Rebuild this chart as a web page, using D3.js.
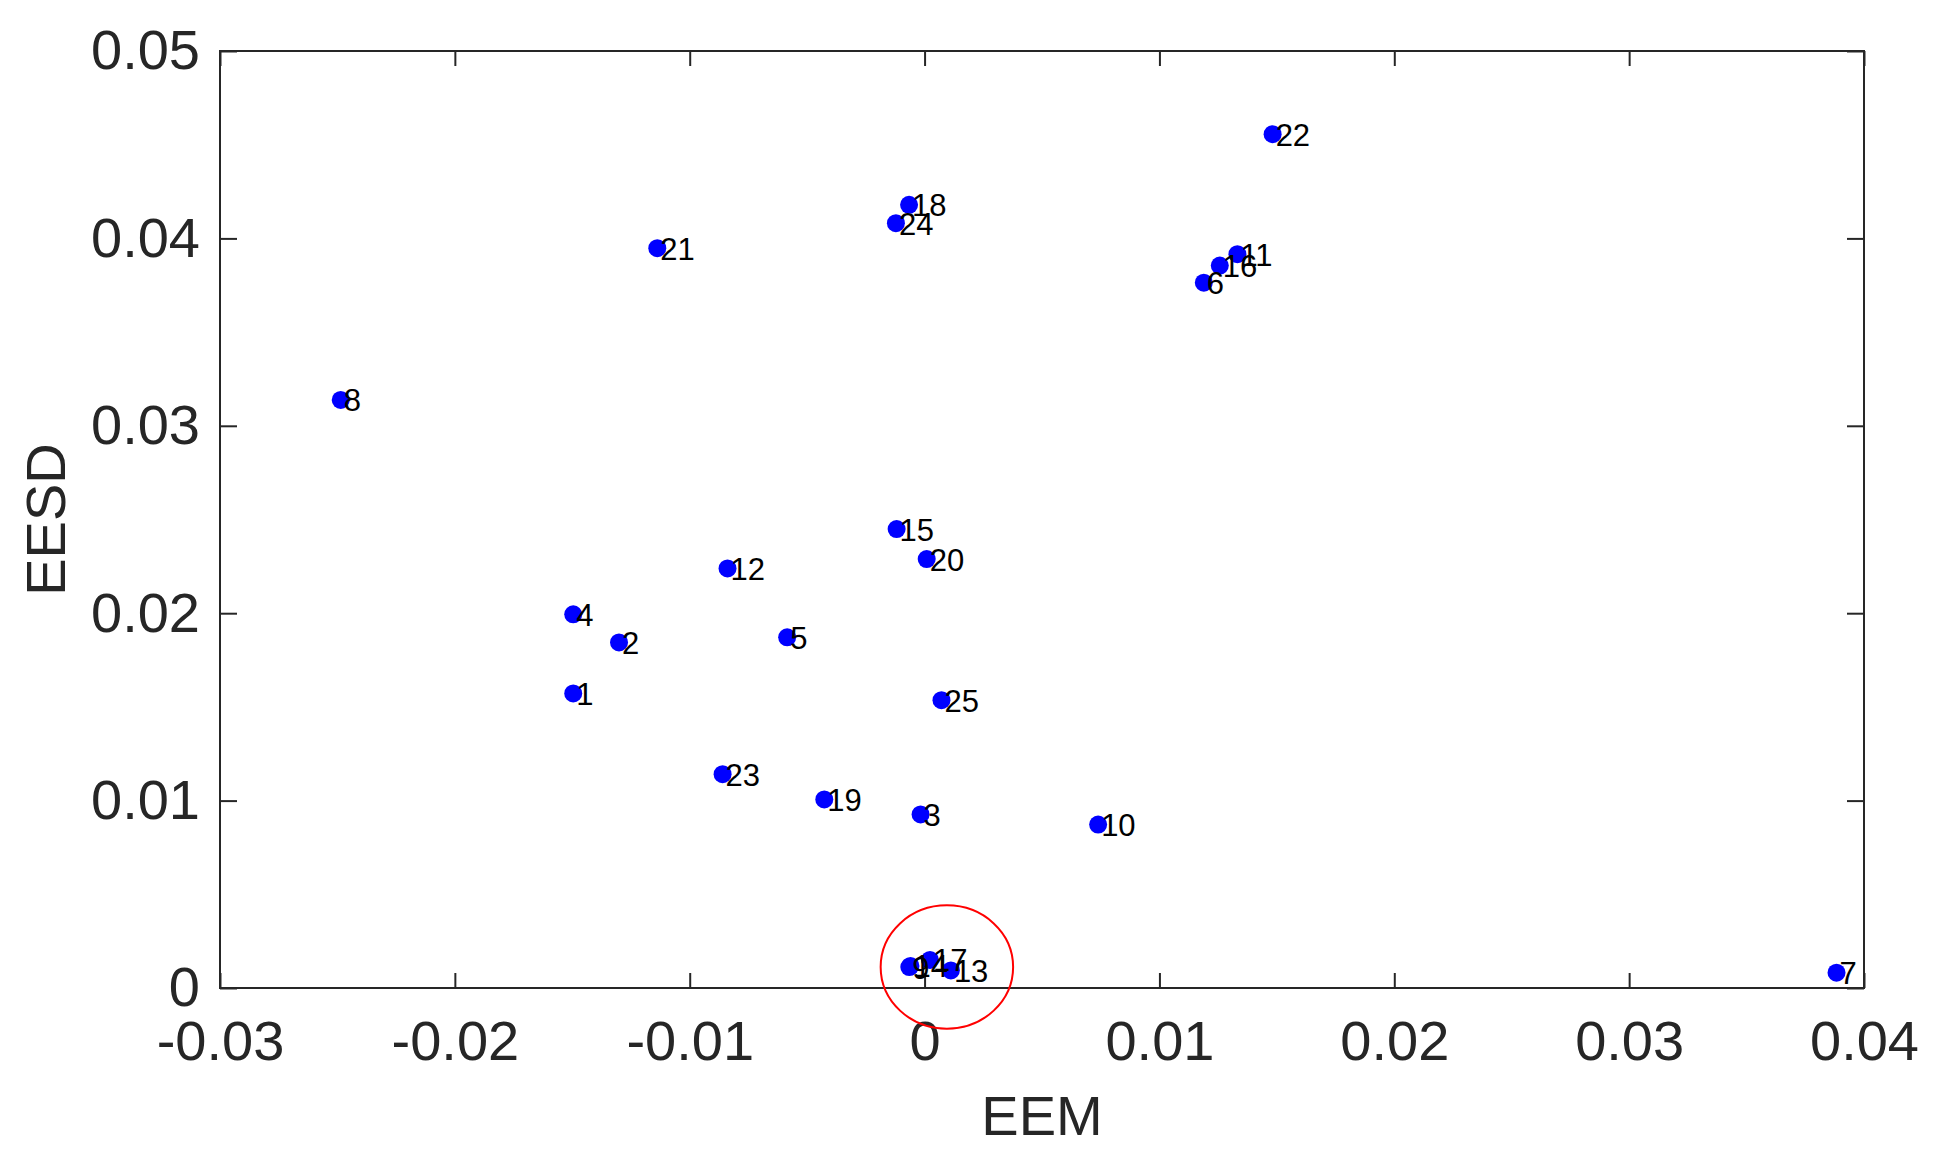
<!DOCTYPE html>
<html>
<head>
<meta charset="utf-8">
<script src="https://cdn.jsdelivr.net/npm/d3@7"></script>
<style>
  body { margin: 0; background: #fff; }
  svg { display: block; font-family: "Liberation Sans", Arial, sans-serif; }
</style>
</head>
<body>
<svg id="chart" width="1943" height="1155"></svg>
<script>
// Point ids and their coordinates
const pointIds = [1, 2, 3, 4, 5, 6, 7, 8, 9, 10, 11, 12, 13, 14, 15, 16, 17, 18, 19, 20, 21, 22, 23, 24, 25];
const eem = [-0.01496, -0.01301, -0.00017, -0.01496, -0.00585, 0.01189, 0.03883, -0.02486, -0.00065, 0.00739,
  0.01332, -0.00839, 0.00112, -0.00060, -0.00119, 0.01257, 0.00023, -0.00066, -0.00427, 0.00009,
  -0.01138, 0.01482, -0.00860, -0.00122, 0.00072];
const eesd = [0.01572, 0.01844, 0.00926, 0.01994, 0.01871, 0.03764, 0.00082, 0.03138, 0.00112, 0.00872,
  0.03916, 0.02239, 0.00094, 0.00118, 0.02449, 0.03855, 0.00150, 0.04179, 0.01006, 0.02289,
  0.03948, 0.04556, 0.01141, 0.04081, 0.01536];

const xTicks = [-0.03, -0.02, -0.01, 0, 0.01, 0.02, 0.03, 0.04];
const xTickLabels = ['-0.03', '-0.02', '-0.01', '0', '0.01', '0.02', '0.03', '0.04'];
const yTicks = [0, 0.01, 0.02, 0.03, 0.04, 0.05];
const yTickLabels = ['0', '0.01', '0.02', '0.03', '0.04', '0.05'];

// red ellipse highlighting the cluster near the origin (data units)
const highlight = { cx: 0.00095, cy: 0.00112, rx: 0.00282, ry: 0.00329 };

const svg = d3.select('#chart');
const width = 1943;
const height = 1155;
const margin = { top: 51, right: 79, bottom: 167, left: 220 };
const axisColor = '#262626';

const x = d3.scaleLinear().domain([-0.03, 0.04]).range([margin.left, width - margin.right]);
const y = d3.scaleLinear().domain([0, 0.05]).range([height - margin.bottom, margin.top]);

const data = pointIds.map((id, i) => ({ id, x: eem[i], y: eesd[i] }));

// axes with inward ticks
const styleAxis = g => {
  g.select('.domain').remove();
  g.selectAll('line').attr('stroke', axisColor).attr('stroke-width', 2);
  g.selectAll('text').attr('fill', axisColor).style('font-size', '56px');
};

svg.append('g')
  .attr('transform', `translate(0,${y(0)})`)
  .call(d3.axisBottom(x).tickValues(xTicks).tickFormat((d, i) => xTickLabels[i])
    .tickSizeInner(-15).tickSizeOuter(0).tickPadding(32))
  .call(styleAxis);

svg.append('g')
  .attr('transform', `translate(${x(-0.03)},0)`)
  .call(d3.axisLeft(y).tickValues(yTicks).tickFormat((d, i) => yTickLabels[i])
    .tickSizeInner(-17).tickSizeOuter(0).tickPadding(20))
  .call(styleAxis);

svg.append('g')
  .attr('transform', `translate(0,${y(0.05)})`)
  .call(d3.axisTop(x).tickValues(xTicks).tickFormat('').tickSizeInner(-15).tickSizeOuter(0))
  .call(styleAxis);

svg.append('g')
  .attr('transform', `translate(${x(0.04)},0)`)
  .call(d3.axisRight(y).tickValues(yTicks).tickFormat('').tickSizeInner(-17).tickSizeOuter(0))
  .call(styleAxis);

// box
svg.append('rect')
  .attr('x', x(-0.03)).attr('y', y(0.05))
  .attr('width', x(0.04) - x(-0.03)).attr('height', y(0) - y(0.05))
  .attr('fill', 'none').attr('stroke', axisColor).attr('stroke-width', 2);

// axis titles
svg.append('text')
  .attr('x', (x(-0.03) + x(0.04)) / 2).attr('y', 1115)
  .attr('text-anchor', 'middle').attr('dominant-baseline', 'central')
  .attr('fill', axisColor).style('font-size', '56px')
  .text('EEM');

svg.append('text')
  .attr('transform', `translate(45,${(y(0) + y(0.05)) / 2}) rotate(-90)`)
  .attr('text-anchor', 'middle').attr('dominant-baseline', 'central')
  .attr('fill', axisColor).style('font-size', '56px')
  .text('EESD');

// points
svg.append('g')
  .selectAll('circle')
  .data(data)
  .join('circle')
  .attr('cx', d => x(d.x))
  .attr('cy', d => y(d.y))
  .attr('r', 9)
  .attr('fill', '#0000ff');

// point labels
svg.append('g')
  .selectAll('text')
  .data(data)
  .join('text')
  .attr('x', d => x(d.x) + 3)
  .attr('y', d => y(d.y) + 1)
  .attr('dominant-baseline', 'central')
  .attr('fill', '#000')
  .style('font-size', '31px')
  .text(d => d.id);

// highlight ellipse
svg.append('ellipse')
  .attr('cx', x(highlight.cx))
  .attr('cy', y(highlight.cy))
  .attr('rx', x(highlight.cx + highlight.rx) - x(highlight.cx))
  .attr('ry', y(0) - y(highlight.ry))
  .attr('fill', 'none')
  .attr('stroke', '#ff0000')
  .attr('stroke-width', 2);
</script>
</body>
</html>
